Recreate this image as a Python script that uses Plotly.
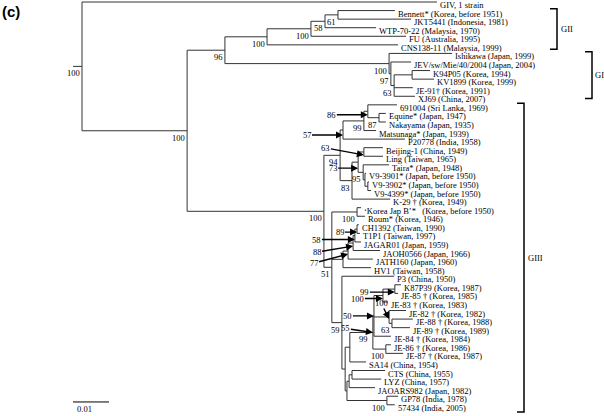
import plotly.graph_objects as go

# ---------------- data ----------------
leaf_labels = [
    "GIV, 1 strain",
    "Bennett* (Korea, before 1951)",
    "JKT5441 (Indonesia, 1981)",
    "WTP-70-22 (Malaysia, 1970)",
    "FU (Australia, 1995)",
    "CNS138-11 (Malaysia, 1999)",
    "Ishikawa (Japan, 1999)",
    "JEV/sw/Mie/40/2004 (Japan, 2004)",
    "K94P05 (Korea, 1994)",
    "KV1899 (Korea, 1999)",
    "JE-91\u2020 (Korea, 1991)",
    "XJ69 (China, 2007)",
    "691004 (Sri Lanka, 1969)",
    "Equine* (Japan, 1947)",
    "Nakayama (Japan, 1935)",
    "Matsunaga* (Japan, 1939)",
    "P20778 (India, 1958)",
    "Beijing-1 (China, 1949)",
    "Ling (Taiwan, 1965)",
    "Taira* (Japan, 1948)",
    "V9-3901* (Japan, before 1950)",
    "V9-3902* (Japan, before 1950)",
    "V9-4399* (Japan, before 1950)",
    "K-29 \u2020 (Korea, 1949)",
    "\u2018Korea Jap B\u2019*\u00a0\u00a0\u00a0(Korea, before 1950)",
    "Roum* (Korea, 1946)",
    "CH1392 (Taiwan, 1990)",
    "T1P1 (Taiwan, 1997)",
    "JAGAR01 (Japan, 1959)",
    "JAOH0566 (Japan, 1966)",
    "JATH160 (Japan, 1960)",
    "HV1 (Taiwan, 1958)",
    "P3 (China, 1950)",
    "K87P39 (Korea, 1987)",
    "JE-85 \u2020 (Korea, 1985)",
    "JE-83 \u2020 (Korea, 1983)",
    "JE-82 \u2020 (Korea, 1982)",
    "JE-88 \u2020 (Korea, 1988)",
    "JE-89 \u2020 (Korea, 1989)",
    "JE-84 \u2020 (Korea, 1984)",
    "JE-86 \u2020 (Korea, 1986)",
    "JE-87 \u2020 (Korea, 1987)",
    "SA14 (China, 1954)",
    "CTS (China, 1955)",
    "LYZ (China, 1957)",
    "JAOARS982 (Japan, 1982)",
    "GP78 (India, 1978)",
    "57434 (India, 2005)",
]
leaf_parent = [
    "root", "K", "K", "J", "I", "C", "D", "E", "G", "G", "F", "F",
    "N", "O", "O", "M", "P", "U", "U", "X", "V", "W", "W", "S",
    "Z", "Z", "BB", "BB", "CC", "DD", "EE", "FF", "GG", "NN", "NN", "OO",
    "MM", "PP", "PP", "TT", "SS", "SS", "II", "MMM", "MMM", "NNN", "OOO", "OOO",
]
# distance from root (substitutions per site)
leaf_depth = [
    0.0986, 0.0869, 0.0914, 0.0817, 0.0900, 0.0878, 0.1028, 0.0914, 0.0967, 0.0978, 0.0919, 0.0925,
    0.0875, 0.0844, 0.0844, 0.0817, 0.0897, 0.0836, 0.0836, 0.0853, 0.0789, 0.0797, 0.0803, 0.0856,
    0.0775, 0.0786, 0.0769, 0.0772, 0.0775, 0.0828, 0.0808, 0.0803, 0.0867, 0.0886, 0.0878, 0.0850,
    0.0900, 0.0919, 0.0911, 0.0858, 0.0858, 0.0892, 0.0789, 0.0842, 0.0831, 0.0814, 0.0878, 0.0869,
]

inner_names = ["root", "A", "B", "C", "I", "J", "K", "D", "E", "F", "G",
               "L", "Q", "P", "M", "N", "O", "S", "T", "U", "X", "V", "W",
               "Y", "Z", "FF", "EE", "DD", "CC", "BB", "GG", "HH", "II", "KK",
               "RR", "TT", "OO", "NN", "MM", "PP", "SS", "JJ", "NNN", "MMM", "OOO"]
inner_parent = [None, "root", "A", "B", "C", "I", "J", "B", "D", "E", "F",
                "A", "L", "Q", "P", "M", "N", "Q", "S", "T", "T", "X", "V",
                "L", "Y", "Y", "FF", "EE", "DD", "CC", "Y", "GG", "HH", "II",
                "KK", "RR", "TT", "OO", "TT", "MM", "RR", "HH", "JJ", "NNN", "JJ"]
inner_depth = [0.0, 0.0292, 0.0397, 0.0514, 0.0636, 0.0675, 0.0711, 0.0853, 0.0858, 0.0867, 0.0917,
               0.0672, 0.0717, 0.0725, 0.0783, 0.0794, 0.0825, 0.0750, 0.0767, 0.0783, 0.0781, 0.0786, 0.0794,
               0.0694, 0.0764, 0.0725, 0.0739, 0.0753, 0.0758, 0.0764, 0.0722, 0.0731, 0.0744, 0.0800,
               0.0808, 0.0811, 0.0836, 0.0869, 0.0853, 0.0861, 0.0844, 0.0736, 0.0742, 0.0750, 0.0847]
inner_support = ["100", "100", "96", "100", "100", "58", "61", "100", "97", "63", "",
                 "100", "94", "57", "99", "86", "87", "83", "73", "63", "95", "", "",
                 "51", "100", "", "77", "88", "58", "89", "59", "", "", "99",
                 "55", "50", "100", "99", "100", "63", "100", "", "", "", "100"]

clade_names = ["GII", "GI", "GIII"]
clade_first_leaf = [1, 6, 12]
clade_last_leaf = [5, 11, 47]

scale_bar_value = 0.01
scale_bar_text = "0.01"
panel_tag = "(c)"

# ---------------- styling / layout ----------------
W, H = 604, 416
PX_PER_UNIT = 3600.0      # 0.01 substitutions = 36 px
ROOT_PX = 82
ROW_PX = 8.57
TOP_PX = 2
x_range = [-ROOT_PX / PX_PER_UNIT, (W - ROOT_PX) / PX_PER_UNIT]
y_range = [(H - TOP_PX) / ROW_PX, -TOP_PX / ROW_PX]

def px2x(px):
    return (px - ROOT_PX) / PX_PER_UNIT

ROOT_STUB = 9 / PX_PER_UNIT
TREE_COLOR = "#333333"
TEXT_FONT = dict(family="Liberation Serif, Times New Roman, serif", size=8.5, color="black")

# arrow-labelled nodes: (tail dx px, tail dy px, tip shift down px)
arrow_style = {
    "P": (-36, 0, 5), "N": (-36, 0, 3.5), "U": (-38, -7, 3), "T": (-25, 0, 6),
    "BB": (-17, 0, 3), "CC": (-38, 0, 4), "DD": (-36, 6, 3), "EE": (-34, 9, 3),
    "NN": (-30, 0, 3), "OO": (-25, 0, 3), "MM": (-8, -16, 2), "TT": (-26, 0, 0),
    "RR": (-27, -4, 0),
}
bracket_x_px = {"GII": 557, "GI": 592, "GIII": 524}
bracket_pad = {"GII": (-0.2, 0.5), "GI": (-0.2, 0.25), "GIII": (-0.2, 0.85)}
label_gap = {"GII": 3, "GI": 2, "GIII": 3}
BRACKET_TICK = 7 / PX_PER_UNIT

# ---------------- tree layout ----------------
depth = dict(zip(inner_names, inner_depth))
parent = dict(zip(inner_names, inner_parent))
children = {n: [] for n in inner_names}
for i, p in enumerate(leaf_parent):
    children[p].append(("leaf", i))
for n, p in zip(inner_names, inner_parent):
    if p is not None:
        children[p].append(("inner", n))

ypos, span = {}, {}

def place(n):
    ys = [c if k == "leaf" else place(c) for k, c in children[n]]
    span[n] = (min(ys), max(ys))
    ypos[n] = (min(ys) + max(ys)) / 2
    return ypos[n]

place("root")

xs, ys = [], []
for i, p in enumerate(leaf_parent):
    xs += [depth[p], leaf_depth[i], None]
    ys += [i, i, None]
for n in inner_names:
    p = parent[n]
    if p is not None:
        xs += [depth[p], depth[n], None]
        ys += [ypos[n], ypos[n], None]
    xs += [depth[n], depth[n], None]
    ys += [span[n][0], span[n][1], None]
xs += [depth["root"] - ROOT_STUB, depth["root"], None]
ys += [ypos["root"], ypos["root"], None]

fig = go.Figure()
fig.add_trace(go.Scatter(x=xs, y=ys, mode="lines", line=dict(color=TREE_COLOR, width=1),
                         hoverinfo="skip", showlegend=False))

# brackets
bx, by = [], []
annotations = []
for name, f, l in zip(clade_names, clade_first_leaf, clade_last_leaf):
    x = px2x(bracket_x_px[name])
    t = f + bracket_pad[name][0]
    b = l + bracket_pad[name][1]
    bx += [x - BRACKET_TICK, x, x, x - BRACKET_TICK, None]
    by += [t, t, b, b, None]
    annotations.append(dict(x=x, y=(t + b) / 2, text=name, showarrow=False, xanchor="left",
                            yanchor="middle", xshift=label_gap[name], font=TEXT_FONT, borderpad=0))
fig.add_trace(go.Scatter(x=bx, y=by, mode="lines", line=dict(color="black", width=1.5),
                         hoverinfo="skip", showlegend=False))

# scale bar
sb0 = px2x(73)
fig.add_trace(go.Scatter(x=[sb0, sb0 + scale_bar_value], y=[46.67, 46.67], mode="lines",
                         line=dict(color="black", width=1), hoverinfo="skip", showlegend=False))
annotations.append(dict(x=sb0, y=46.67, text=scale_bar_text, showarrow=False, xanchor="left",
                        yanchor="top", xshift=3, yshift=-1, font=TEXT_FONT, borderpad=0))

# leaf labels
for i, lab in enumerate(leaf_labels):
    annotations.append(dict(x=leaf_depth[i], y=i, text=lab, showarrow=False, xanchor="left",
                            yanchor="middle", xshift=2, yshift=-3, font=TEXT_FONT, borderpad=0))

# support values
for n, s in zip(inner_names, inner_support):
    if not s:
        continue
    if n in arrow_style:
        ax, ay, dy = arrow_style[n]
        annotations.append(dict(x=depth[n], y=ypos[n], text=s, showarrow=True, ax=ax, ay=ay,
                                axref="pixel", ayref="pixel", yshift=-dy, arrowhead=2,
                                arrowsize=1, arrowwidth=1.4, arrowcolor="black", standoff=0,
                                startstandoff=0, font=TEXT_FONT, borderpad=0))
    else:
        annotations.append(dict(x=depth[n], y=ypos[n], text=s, showarrow=False, xanchor="right",
                                yanchor="top", xshift=-1, yshift=-1, font=TEXT_FONT, borderpad=0))

annotations.append(dict(x=1 / W, y=1 - 2 / H, xref="paper", yref="paper", text="<b>" + panel_tag + "</b>",
                        showarrow=False, xanchor="left", yanchor="top", borderpad=0,
                        font=dict(family="Liberation Sans, Arial, sans-serif", size=15, color="black")))

fig.update_layout(
    width=W, height=H, margin=dict(l=0, r=0, t=0, b=0),
    paper_bgcolor="white", plot_bgcolor="white", showlegend=False,
    xaxis=dict(range=x_range, visible=False, fixedrange=True),
    yaxis=dict(range=y_range, visible=False, fixedrange=True),
    annotations=annotations,
)
fig.write_html("out.html", config={"displayModeBar": False, "staticPlot": True},
               post_script="document.body.style.margin='0px';")
